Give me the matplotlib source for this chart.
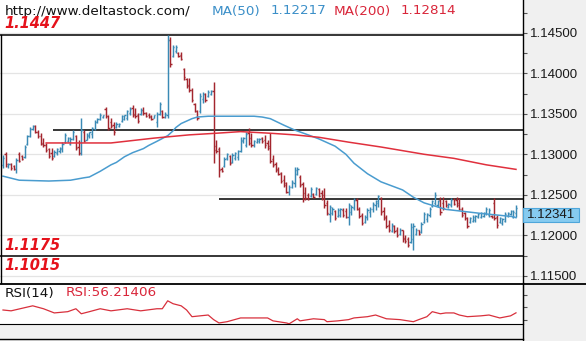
import matplotlib
matplotlib.use("Agg")
import matplotlib.pyplot as plt
import matplotlib.transforms as mtrans
from matplotlib.lines import Line2D
from matplotlib.patches import Rectangle
import numpy as np

# ---------------- data (EUR/USD style OHLC bars) ----------------
opens = [
    1.1287, 1.1300, 1.1285, 1.1288, 1.1286, 1.1282, 1.1300, 1.1298, 1.1297, 1.1313,
    1.1323, 1.1331, 1.1335, 1.1328, 1.1323, 1.1314, 1.1312, 1.1306, 1.1302, 1.1298,
    1.1302, 1.1304, 1.1306, 1.1315, 1.1316, 1.1313, 1.1319, 1.1322, 1.1309, 1.1302,
    1.1328, 1.1318, 1.1322, 1.1325, 1.1331, 1.1340, 1.1343, 1.1346, 1.1356, 1.1347,
    1.1340, 1.1336, 1.1334, 1.1335, 1.1341, 1.1344, 1.1345, 1.1351, 1.1357, 1.1350,
    1.1348, 1.1350, 1.1355, 1.1351, 1.1348, 1.1347, 1.1345, 1.1340, 1.1350, 1.1354,
    1.1346, 1.1349, 1.1441, 1.1421, 1.1427, 1.1425, 1.1423, 1.1405, 1.1393, 1.1385,
    1.1380, 1.1362, 1.1353, 1.1353, 1.1368, 1.1374, 1.1372, 1.1375, 1.1378, 1.1310,
    1.1306, 1.1282, 1.1285, 1.1295, 1.1298, 1.1290, 1.1296, 1.1297, 1.1304, 1.1316,
    1.1312, 1.1326, 1.1320, 1.1311, 1.1315, 1.1316, 1.1320, 1.1318, 1.1314, 1.1310,
    1.1294, 1.1288, 1.1282, 1.1277, 1.1268, 1.1264, 1.1253, 1.1260, 1.1264, 1.1276,
    1.1272, 1.1263, 1.1252, 1.1250, 1.1248, 1.1251, 1.1251, 1.1257, 1.1252, 1.1250,
    1.1240, 1.1226, 1.1227, 1.1230, 1.1224, 1.1225, 1.1231, 1.1230, 1.1222, 1.1229,
    1.1234, 1.1243, 1.1233, 1.1225, 1.1216, 1.1222, 1.1229, 1.1232, 1.1237, 1.1240,
    1.1246, 1.1230, 1.1222, 1.1213, 1.1205, 1.1212, 1.1206, 1.1201, 1.1206, 1.1197,
    1.1195, 1.1192, 1.1195, 1.1202, 1.1206, 1.1204, 1.1216, 1.1220, 1.1225, 1.1236,
    1.1240, 1.1237, 1.1244, 1.1240, 1.1242, 1.1235, 1.1237, 1.1245, 1.1244, 1.1240,
    1.1233, 1.1227, 1.1221, 1.1216, 1.1218, 1.1219, 1.1222, 1.1223, 1.1224, 1.1227,
    1.1225, 1.1224, 1.1240, 1.1222, 1.1216, 1.1215, 1.1218, 1.1224, 1.1226, 1.1223, 1.1228,
]
highs = [
    1.1299, 1.1303, 1.1289, 1.1289, 1.1287, 1.1295, 1.1303, 1.1299, 1.1311, 1.1324,
    1.1334, 1.1336, 1.1336, 1.1330, 1.1326, 1.1320, 1.1314, 1.1308, 1.1308, 1.1305,
    1.1308, 1.1309, 1.1315, 1.1326, 1.1321, 1.1321, 1.1330, 1.1324, 1.1318, 1.1345,
    1.1330, 1.1326, 1.1328, 1.1334, 1.1342, 1.1345, 1.1351, 1.1349, 1.1358, 1.1349,
    1.1345, 1.1340, 1.1340, 1.1339, 1.1349, 1.1349, 1.1355, 1.1358, 1.1361, 1.1357,
    1.1351, 1.1357, 1.1358, 1.1352, 1.1351, 1.1349, 1.1349, 1.1352, 1.1365, 1.1355,
    1.1352, 1.1447, 1.1445, 1.1435, 1.1435, 1.1426, 1.1426, 1.1407, 1.1394, 1.1394,
    1.1382, 1.1363, 1.1355, 1.1376, 1.1377, 1.1376, 1.1379, 1.1379, 1.1389, 1.1318,
    1.1309, 1.1284, 1.1297, 1.1302, 1.1299, 1.1302, 1.1303, 1.1305, 1.1321, 1.1321,
    1.1328, 1.1333, 1.1326, 1.1318, 1.1320, 1.1320, 1.1321, 1.1324, 1.1318, 1.1326,
    1.1299, 1.1290, 1.1284, 1.1278, 1.1274, 1.1266, 1.1262, 1.1268, 1.1284, 1.1284,
    1.1274, 1.1266, 1.1260, 1.1252, 1.1260, 1.1252, 1.1260, 1.1258, 1.1256, 1.1258,
    1.1244, 1.1237, 1.1235, 1.1231, 1.1234, 1.1234, 1.1234, 1.1234, 1.1240, 1.1237,
    1.1246, 1.1246, 1.1235, 1.1228, 1.1225, 1.1234, 1.1235, 1.1241, 1.1244, 1.1250,
    1.1247, 1.1235, 1.1225, 1.1219, 1.1215, 1.1213, 1.1210, 1.1209, 1.1207, 1.1200,
    1.1198, 1.1215, 1.1215, 1.1209, 1.1207, 1.1216, 1.1229, 1.1228, 1.1235, 1.1244,
    1.1253, 1.1244, 1.1247, 1.1247, 1.1244, 1.1240, 1.1246, 1.1246, 1.1247, 1.1246,
    1.1235, 1.1229, 1.1223, 1.1223, 1.1225, 1.1225, 1.1228, 1.1229, 1.1229, 1.1235,
    1.1234, 1.1225, 1.1246, 1.1225, 1.1223, 1.1221, 1.1229, 1.1229, 1.1231, 1.1231, 1.1237,
]
lows = [
    1.1283, 1.1284, 1.1283, 1.1281, 1.1281, 1.1277, 1.1290, 1.1293, 1.1295, 1.1311,
    1.1321, 1.1330, 1.1326, 1.1320, 1.1311, 1.1309, 1.1303, 1.1295, 1.1293, 1.1297,
    1.1299, 1.1302, 1.1303, 1.1314, 1.1315, 1.1311, 1.1318, 1.1305, 1.1299, 1.1299,
    1.1315, 1.1318, 1.1320, 1.1320, 1.1330, 1.1339, 1.1342, 1.1345, 1.1345, 1.1330,
    1.1333, 1.1324, 1.1333, 1.1334, 1.1340, 1.1342, 1.1342, 1.1349, 1.1346, 1.1345,
    1.1339, 1.1349, 1.1349, 1.1346, 1.1345, 1.1342, 1.1345, 1.1334, 1.1349, 1.1345,
    1.1345, 1.1345, 1.1408, 1.1420, 1.1425, 1.1420, 1.1416, 1.1392, 1.1382, 1.1377,
    1.1365, 1.1352, 1.1342, 1.1351, 1.1363, 1.1365, 1.1371, 1.1373, 1.1289, 1.1302,
    1.1272, 1.1278, 1.1284, 1.1293, 1.1287, 1.1289, 1.1293, 1.1293, 1.1303, 1.1314,
    1.1309, 1.1311, 1.1309, 1.1309, 1.1314, 1.1314, 1.1314, 1.1308, 1.1305, 1.1289,
    1.1284, 1.1278, 1.1274, 1.1265, 1.1260, 1.1252, 1.1250, 1.1258, 1.1260, 1.1274,
    1.1260, 1.1241, 1.1244, 1.1244, 1.1247, 1.1246, 1.1250, 1.1247, 1.1244, 1.1234,
    1.1225, 1.1216, 1.1225, 1.1219, 1.1223, 1.1223, 1.1223, 1.1221, 1.1213, 1.1225,
    1.1231, 1.1231, 1.1221, 1.1213, 1.1215, 1.1219, 1.1223, 1.1229, 1.1231, 1.1235,
    1.1225, 1.1219, 1.1209, 1.1204, 1.1204, 1.1203, 1.1198, 1.1200, 1.1192, 1.1191,
    1.1186, 1.1191, 1.1182, 1.1200, 1.1200, 1.1203, 1.1215, 1.1216, 1.1223, 1.1235,
    1.1237, 1.1235, 1.1225, 1.1231, 1.1235, 1.1234, 1.1235, 1.1237, 1.1235, 1.1231,
    1.1223, 1.1219, 1.1209, 1.1215, 1.1216, 1.1216, 1.1221, 1.1221, 1.1223, 1.1225,
    1.1223, 1.1221, 1.1219, 1.1209, 1.1215, 1.1213, 1.1216, 1.1223, 1.1225, 1.1221, 1.1223,
]
closes = [
    1.1296, 1.1288, 1.1288, 1.1283, 1.1282, 1.1293, 1.1292, 1.1294, 1.1309, 1.1322,
    1.1331, 1.1335, 1.1328, 1.1322, 1.1313, 1.1311, 1.1305, 1.1298, 1.1295, 1.1303,
    1.1306, 1.1308, 1.1313, 1.1324, 1.1320, 1.1319, 1.1328, 1.1308, 1.1301, 1.1330,
    1.1317, 1.1324, 1.1327, 1.1332, 1.1340, 1.1344, 1.1349, 1.1348, 1.1347, 1.1333,
    1.1335, 1.1327, 1.1338, 1.1338, 1.1347, 1.1348, 1.1353, 1.1356, 1.1348, 1.1347,
    1.1341, 1.1355, 1.1351, 1.1347, 1.1346, 1.1344, 1.1348, 1.1350, 1.1362, 1.1346,
    1.1350, 1.1441, 1.1412, 1.1432, 1.1433, 1.1421, 1.1418, 1.1395, 1.1384, 1.1379,
    1.1367, 1.1354, 1.1345, 1.1372, 1.1375, 1.1367, 1.1377, 1.1378, 1.1305, 1.1304,
    1.1280, 1.1279, 1.1294, 1.1300, 1.1289, 1.1299, 1.1301, 1.1304, 1.1318, 1.1320,
    1.1325, 1.1314, 1.1312, 1.1316, 1.1319, 1.1319, 1.1316, 1.1312, 1.1308, 1.1292,
    1.1287, 1.1280, 1.1276, 1.1267, 1.1262, 1.1254, 1.1260, 1.1266, 1.1281, 1.1282,
    1.1262, 1.1245, 1.1246, 1.1245, 1.1257, 1.1247, 1.1258, 1.1249, 1.1246, 1.1238,
    1.1228, 1.1235, 1.1233, 1.1221, 1.1231, 1.1232, 1.1225, 1.1223, 1.1237, 1.1235,
    1.1243, 1.1233, 1.1224, 1.1215, 1.1223, 1.1231, 1.1233, 1.1239, 1.1242, 1.1248,
    1.1229, 1.1221, 1.1211, 1.1206, 1.1213, 1.1205, 1.1200, 1.1207, 1.1195, 1.1193,
    1.1188, 1.1210, 1.1212, 1.1207, 1.1202, 1.1214, 1.1226, 1.1226, 1.1233, 1.1242,
    1.1250, 1.1242, 1.1229, 1.1234, 1.1237, 1.1239, 1.1244, 1.1239, 1.1237, 1.1233,
    1.1225, 1.1221, 1.1212, 1.1221, 1.1223, 1.1224, 1.1226, 1.1227, 1.1228, 1.1233,
    1.1231, 1.1222, 1.1221, 1.1213, 1.1221, 1.1220, 1.1226, 1.1228, 1.1230, 1.1229, 1.12341,
]

ma50_idx = [0, 6, 17, 25, 30, 32, 36, 40, 42, 45, 48, 52, 54, 57, 61, 63, 64, 66, 68,
            70, 72, 76, 80, 88, 93, 96, 99, 104, 108, 113, 117, 123, 127, 130, 135,
            140, 144, 148, 152, 156, 164, 177, 189, 190]
ma50_val = [1.1273, 1.1268, 1.1267, 1.1268, 1.1271, 1.1272, 1.1279, 1.1287, 1.1290,
            1.1297, 1.1302, 1.1307, 1.1311, 1.1316, 1.1323, 1.1329, 1.1333, 1.1338,
            1.1341, 1.1344, 1.1346, 1.1347, 1.1347, 1.1347, 1.1347, 1.1346, 1.1344,
            1.1336, 1.1330, 1.1324, 1.1319, 1.1310, 1.1300, 1.1289, 1.1276, 1.1266,
            1.1261, 1.1256, 1.1247, 1.1240, 1.1232, 1.1227, 1.1223, 1.12217]

ma200_idx = [16, 29, 40, 56, 69, 79, 88, 99, 108, 117, 128, 140, 156, 167, 179, 190]
ma200_val = [1.1314, 1.1314, 1.1314, 1.1320, 1.1324, 1.1326, 1.1328, 1.1326, 1.1324,
             1.1321, 1.1315, 1.1309, 1.1300, 1.1295, 1.1287, 1.12814]

rsi_idx = [0, 3, 11, 15, 19, 24, 27, 29, 32, 36, 40, 46, 51, 57, 59, 61, 63, 66, 68, 70,
           73, 76, 78, 80, 83, 88, 93, 98, 100, 105, 106, 109, 110, 115, 119, 120, 124,
           128, 130, 135, 138, 142, 147, 152, 154, 157, 159, 162, 164, 167, 169, 172,
           177, 180, 184, 188, 190]
rsi_val = [63, 61, 73, 66, 56, 59, 66, 54, 59, 66, 61, 66, 61, 66, 66, 85, 78, 73, 63, 47,
           49, 51, 40, 32, 35, 44, 44, 44, 37, 32, 30, 42, 37, 42, 40, 35, 37,
           40, 44, 47, 51, 42, 40, 35, 40, 47, 59, 54, 56, 56, 51, 47,
           49, 51, 44, 49, 56.21406]

level_top = 1.1447
level_res = 1.1330
level_mid = 1.1245
level_sup = 1.1175
level_low = 1.1015
level_res_start = 18.5
level_mid_start = 80

price_ticks = [1.115, 1.120, 1.125, 1.130, 1.135, 1.140, 1.145]
minor_ticks = [1.1150, 1.1175, 1.1200, 1.1225, 1.1250, 1.1275, 1.1300, 1.1325,
               1.1350, 1.1375, 1.1400, 1.1425, 1.1450, 1.1475]
last_price = 1.12341
ma50_last = 1.12217
ma200_last = 1.12814
rsi_last = 56.21406
site = "http://www.deltastock.com/"

# ---------------- styling ----------------
W, H = 586, 341
UP = "#3a8ab5"
DOWN = "#a3262e"
MA50_C = "#4a9ccf"
MA200_C = "#e0303d"
GRID = "#e4e4e4"
LBL_RED = "#e5121b"
PANEL_BG = "#f0f0f0"
Y_LO, Y_HI = 1.11411, 1.14905
X_LO, X_HI = -1.11, 192.6

def fx(x):
    return x / W

def fy(y):
    return 1 - y / H

fig = plt.figure(figsize=(W / 100, H / 100), dpi=100)
fig.patch.set_facecolor(PANEL_BG)

# main price panel: pixels x 0..523, y 0..283
ax = fig.add_axes([0, fy(283), fx(523), 283 / H])
ax.set_facecolor("white")
n = len(opens)
idx = np.arange(n)
o = np.array(opens); h = np.array(highs); l = np.array(lows); c = np.array(closes)
colors = np.where(c >= o, UP, DOWN)

for gy in price_ticks:
    ax.axhline(gy, color=GRID, lw=0.9, zorder=0)

tick_w = 0.45
ax.vlines(idx, l, h, colors=colors, lw=1.05, zorder=3)
ax.hlines(o, idx - tick_w, idx, colors=colors, lw=1.05, zorder=3)
ax.hlines(c, idx, idx + tick_w, colors=colors, lw=1.05, zorder=3)

ax.plot(ma50_idx, ma50_val, color=MA50_C, lw=1.1, zorder=4, solid_joinstyle="round")
ax.plot(ma200_idx, ma200_val, color=MA200_C, lw=1.1, zorder=4, solid_joinstyle="round")

ax.hlines(level_top, X_LO, X_HI, color="black", lw=1.1, zorder=2)
ax.hlines(level_res, level_res_start, X_HI, color="black", lw=1.1, zorder=2)
ax.hlines(level_mid, level_mid_start, X_HI, color="black", lw=1.1, zorder=2)
ax.hlines(level_sup, X_LO, X_HI, color="black", lw=1.1, zorder=2)

for s in ["top", "left", "bottom"]:
    ax.spines[s].set_visible(False)
ax.spines["right"].set_color("black")
ax.spines["right"].set_linewidth(1.0)

ax.set_xticks([])
ax.yaxis.tick_right()
ax.set_yticks(price_ticks)
ax.set_yticklabels(["%.5f" % v for v in price_ticks])
ax.set_yticks(minor_ticks, minor=True)
ax.tick_params(axis="y", which="both", direction="out", length=3, width=0.8,
               color="#555555", pad=2, labelsize=9.5, labelcolor="#1a1a1a")
for t in ax.get_yticklabels():
    t.set_fontfamily("Liberation Sans")
ax.set_xlim(X_LO, X_HI)
ax.set_ylim(Y_LO, Y_HI)

# last price box
bt = mtrans.blended_transform_factory(ax.transAxes, ax.transData)
box_h = 14 / (283 / (Y_HI - Y_LO))
ax.add_patch(Rectangle((1.0, last_price - box_h), 56 / 523, box_h, transform=bt,
                       facecolor="#86cbf0", edgecolor="#4ea6da", lw=0.8,
                       clip_on=False, zorder=6))
ax.text(1.0 + 28 / 523, last_price - box_h / 2, "%.5f" % last_price, transform=bt,
        ha="center", va="center", fontsize=9.5, family="Liberation Sans",
        color="#1a1a1a", zorder=7, clip_on=False)

# RSI panel: y 283..324
ax2 = fig.add_axes([0, fy(324), fx(523), 41 / H])
ax2.set_facecolor("white")
ax2.plot(rsi_idx, rsi_val, color="#d8303c", lw=0.9)
for s in ["top", "left"]:
    ax2.spines[s].set_visible(False)
ax2.spines["bottom"].set_color("black")
ax2.spines["right"].set_color("black")
ax2.set_xticks([])
ax2.yaxis.tick_right()
ax2.set_yticks([40, 70, 100])
ax2.set_yticklabels([])
ax2.tick_params(axis="y", direction="out", length=3, width=0.8, color="#555555")
ax2.set_xlim(X_LO, X_HI)
ax2.set_ylim(29.5, 127.6)

# frame lines
fig.add_artist(Line2D([0, 1], [fy(283.5), fy(283.5)], color="black", lw=1.3))
fig.add_artist(Line2D([0, fx(523)], [fy(339), fy(339)], color="black", lw=1.0))
fig.add_artist(Line2D([fx(0.5), fx(0.5)], [fy(35), fy(283)], color="black", lw=1.0))
fig.add_artist(Line2D([fx(523), fx(523)], [fy(283), fy(341)], color="black", lw=1.0))

# header texts
fig.text(fx(5), fy(11), site, fontsize=9.7, family="DejaVu Sans", color="#111111",
         va="center", ha="left")
fig.text(fx(212), fy(11), "MA(50)", fontsize=9.7, family="DejaVu Sans",
         color="#3b8fc8", va="center", ha="left")
fig.text(fx(271), fy(11), "%.5f" % ma50_last, fontsize=9.7, family="DejaVu Sans",
         color="#3b8fc8", va="center", ha="left")
fig.text(fx(334), fy(11), "MA(200)", fontsize=9.7, family="DejaVu Sans",
         color="#d9263a", va="center", ha="left")
fig.text(fx(401), fy(11), "%.5f" % ma200_last, fontsize=9.7, family="DejaVu Sans",
         color="#d9263a", va="center", ha="left")

for val, yy in [(level_top, 24), (level_sup, 245), (level_low, 265)]:
    fig.text(fx(4), fy(yy), "%.4f" % val, fontsize=10.5, family="DejaVu Sans",
             weight="bold", style="italic", color=LBL_RED, va="center", ha="left")

fig.text(fx(5), fy(293), "RSI(14)", fontsize=9.7, family="DejaVu Sans",
         color="#111111", va="center", ha="left")
fig.text(fx(66), fy(293), "RSI:%.5f" % rsi_last, fontsize=9.7, family="DejaVu Sans",
         color="#d9263a", va="center", ha="left")

fig.savefig("out.png", dpi=100, facecolor=fig.get_facecolor())
